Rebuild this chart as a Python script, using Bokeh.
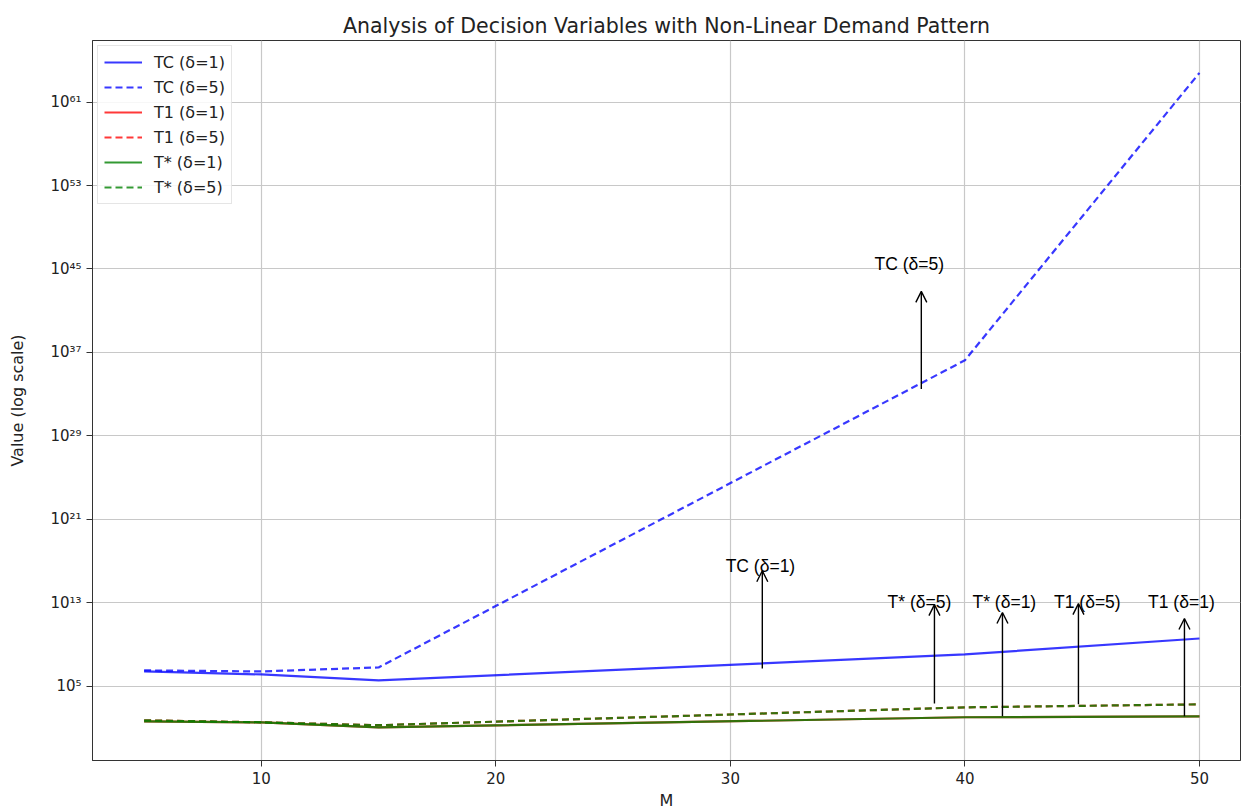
from bokeh.plotting import figure
from bokeh.models import Range1d, FixedTicker, CustomJSTickFormatter, Arrow, OpenHead, ColumnDataSource
from bokeh.core.properties import value
from bokeh.embed import file_html
from bokeh.resources import INLINE

# ---- data ----
M = [5, 10, 15, 40, 50]
TC_d1 = [2.7e6, 1.4e6, 3.7e5, 1.15e8, 3.9e9]
TC_d5 = [3.4e6, 2.7e6, 6.6e6, 1.8e36, 6.3e63]
T1_d1 = [45, 36, 12, 110, 135]
T1_d5 = [56, 36, 19, 980, 1900]
Ts_d1 = [45, 36, 12, 110, 135]
Ts_d5 = [56, 36, 19, 980, 1900]

y_ticks = [1e5, 1e13, 1e21, 1e29, 1e37, 1e45, 1e53, 1e61]
x_ticks = [10, 20, 30, 40, 50]

ann_labels = ["TC (δ=5)", "TC (δ=1)", "T* (δ=5)", "T* (δ=1)", "T1 (δ=5)", "T1 (δ=1)"]
ann_text_x = [37.63, 31.28, 38.06, 41.68, 45.22, 49.23]
ann_text_y = [2.75e45, 3.7e16, 1.35e13, 1.35e13, 1.35e13, 1.35e13]
arrow_x = [38.14, 31.36, 38.70, 41.60, 44.84, 49.36]
arrow_tail_y = [3.1e33, 5.2e6, 2300, 135, 1900, 135]
arrow_head_y = [7.2e42, 1.2e16, 6.9e12, 1.2e12, 8.5e12, 3.2e11]

FONT = "DejaVu Sans"
ANN_FONT = "Liberation Sans"

p = figure(width=1243, height=812, y_axis_type="log",
           x_range=Range1d(2.8, 51.75), y_range=Range1d(7.9e-3, 7.9e66),
           output_backend="svg", toolbar_location=None,
           min_border_left=92, min_border_right=3, min_border_top=40, min_border_bottom=48)

p.title.text = "Analysis of Decision Variables with Non-Linear Demand Pattern"
p.title.align = "center"
p.title.text_font = FONT
p.title.text_font_size = "20.5px"
p.title.text_font_style = "normal"
p.title.text_color = "#222222"
p.title.standoff = 6

p.outline_line_color = "#333333"
p.outline_line_width = 1

lw = 2.2
p.line(M, TC_d1, line_color="#0000ff", line_alpha=0.78, line_width=lw, legend_label="TC (δ=1)")
p.line(M, TC_d5, line_color="#0000ff", line_alpha=0.78, line_width=lw, line_dash="7 4", legend_label="TC (δ=5)")
p.line(M, T1_d1, line_color="#ff0000", line_alpha=0.78, line_width=lw, legend_label="T1 (δ=1)")
p.line(M, T1_d5, line_color="#ff0000", line_alpha=0.78, line_width=lw, line_dash="7 4", legend_label="T1 (δ=5)")
p.line(M, Ts_d1, line_color="#008000", line_alpha=0.8, line_width=lw, legend_label="T* (δ=1)")
p.line(M, Ts_d5, line_color="#008000", line_alpha=0.8, line_width=lw, line_dash="7 4", legend_label="T* (δ=5)")

# annotations
for i in range(len(ann_labels)):
    p.add_layout(Arrow(x_start=arrow_x[i], y_start=arrow_tail_y[i], x_end=arrow_x[i], y_end=arrow_head_y[i],
                       line_color="black", line_width=1.4,
                       end=OpenHead(size=11, line_color="black", line_width=1.4)))
src = ColumnDataSource(dict(x=ann_text_x, y=ann_text_y, t=ann_labels))
p.text(x="x", y="y", text="t", source=src, text_align="center", text_baseline="middle",
       text_font=value(ANN_FONT), text_font_size="17.5px", text_color="black")

# axes
p.xaxis.ticker = FixedTicker(ticks=x_ticks)
p.yaxis.ticker = FixedTicker(ticks=y_ticks)
p.yaxis.formatter = CustomJSTickFormatter(code="""
const e = Math.round(Math.log10(tick));
const sup = {'0':'\u2070','1':'\u00b9','2':'\u00b2','3':'\u00b3','4':'\u2074','5':'\u2075','6':'\u2076','7':'\u2077','8':'\u2078','9':'\u2079','-':'\u207b'};
return '10' + String(e).split('').map(c => sup[c]).join('');
""")
for ax in (p.xaxis, p.yaxis):
    ax.major_label_text_font = FONT
    ax.major_label_text_font_size = "15px"
    ax.major_label_text_color = "#222222"
    ax.axis_label_text_font = FONT
    ax.axis_label_text_font_size = "16px"
    ax.axis_label_text_font_style = "normal"
    ax.axis_label_text_color = "#222222"
    ax.major_tick_out = 6
    ax.major_tick_in = 0
    ax.minor_tick_out = 0
    ax.minor_tick_in = 0
    ax.axis_line_color = "#333333"
    ax.major_tick_line_color = "#333333"
p.xaxis.axis_label = "M"
p.yaxis.axis_label = "Value (log scale)"
p.xaxis.axis_label_standoff = 4
p.yaxis.axis_label_standoff = 20

p.grid.grid_line_color = "#c8c8c8"
p.grid.grid_line_width = 1.2

lg = p.legend[0]
lg.location = "top_left"
lg.margin = 5
lg.padding = 6
lg.spacing = 5
lg.label_height = 20
lg.glyph_height = 20
lg.glyph_width = 38
lg.label_standoff = 12
lg.label_text_font = FONT
lg.label_text_font_size = "16px"
lg.label_text_color = "#222222"
lg.border_line_color = "#cccccc"
lg.border_line_width = 1
lg.background_fill_alpha = 0.85

open("out.html", "w").write(file_html(p, INLINE))
